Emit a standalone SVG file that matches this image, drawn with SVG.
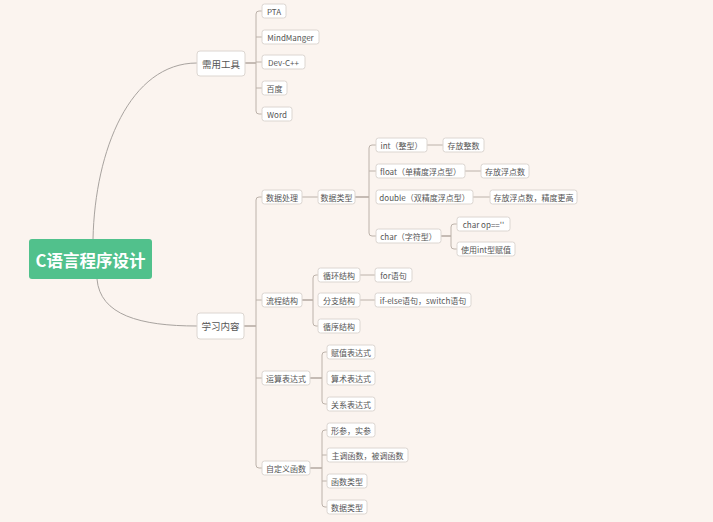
<svg xmlns="http://www.w3.org/2000/svg" width="713" height="522" viewBox="0 0 713 522">
<style>
.bg{fill:#fbf4ef}
.b{fill:#ffffff;stroke:#dcd6d1;stroke-width:1}
.t{font-family:"Noto Sans CJK SC","Noto Sans",sans-serif;font-size:8px;fill:#555;text-anchor:middle;dominant-baseline:central}
.t1{font-size:9.5px}
.rt{font-family:"Noto Sans CJK SC","Noto Sans",sans-serif;font-size:16.5px;font-weight:bold;fill:#fff;text-anchor:middle;dominant-baseline:central}
.c{fill:none;stroke:#bcb2aa;stroke-width:1}
.p{fill:none;stroke:#b3a9a1;stroke-width:1.5}
.cv{fill:none;stroke:#a8a39f;stroke-width:1}
</style>
<rect class="bg" x="0" y="0" width="713" height="522"/>
<g id="connectors">
<path class="cv" d="M93 239 C95 150 130 63 197 63"/>
<path class="cv" d="M97 279 C100 315 140 326 197 326"/>
<!-- 需用工具 -->
<path class="p" d="M245 63 H256"/>
<path class="c" d="M262 11 H259 Q256 11 256 14 V111 Q256 114 259 114 H262"/>
<path class="c" d="M256 37 H262 M256 62 H262 M256 88 H262"/>
<!-- 学习内容 -->
<path class="p" d="M244 326 H256"/>
<path class="c" d="M262 197 H259 Q256 197 256 200 V465 Q256 468 259 468 H262"/>
<path class="c" d="M256 300 H262 M256 378 H262"/>
<!-- 数据处理 -->
<path class="c" d="M302 197 H318"/>
<path class="p" d="M355 197 H369"/>
<path class="c" d="M376 145 H372 Q369 145 369 148 V233 Q369 236 372 236 H376"/>
<path class="c" d="M369 171 H376"/>
<path class="c" d="M427 145 H443 M465 171 H481 M473 197 H490"/>
<path class="p" d="M441 236 H451"/>
<path class="c" d="M457 224 H454 Q451 224 451 227 V246 Q451 249 454 249 H457"/>
<!-- 流程结构 -->
<path class="p" d="M302 300 H313"/>
<path class="c" d="M318 275 H316 Q313 275 313 278 V323 Q313 326 316 326 H318"/>
<path class="c" d="M360 275 H375 M360 300 H375"/>
<!-- 运算表达式 -->
<path class="p" d="M310 378 H322"/>
<path class="c" d="M327 352 H325 Q322 352 322 355 V401 Q322 404 325 404 H327"/>
<!-- 自定义函数 -->
<path class="p" d="M310 468 H322"/>
<path class="c" d="M327 430 H325 Q322 430 322 433 V504 Q322 507 325 507 H327"/>
<path class="c" d="M322 455 H327 M322 481 H327"/>
</g>
<g id="root"><rect x="29" y="239" width="123" height="40" rx="3" fill="#51c18c"/><text class="rt" x="90.5" y="260">C语言程序设计</text></g>
<g id="tools"><rect class="b" x="197" y="51" width="48" height="25" rx="3"/><text class="t t1" x="221" y="63.5">需用工具</text></g>
<g id="pta"><rect class="b" x="262" y="4" width="24" height="14" rx="2.5"/><text class="t" x="274" y="11">PTA</text></g>
<g id="mindmanger"><rect class="b" x="262" y="30" width="57" height="14" rx="2.5"/><text class="t" x="290.5" y="37">MindManger</text></g>
<g id="devcpp"><rect class="b" x="262" y="55" width="43" height="14" rx="2.5"/><text class="t" x="283.5" y="62">Dev-C++</text></g>
<g id="baidu"><rect class="b" x="262" y="81" width="25" height="14" rx="2.5"/><text class="t" x="274.5" y="88">百度</text></g>
<g id="word"><rect class="b" x="262" y="107" width="30" height="14" rx="2.5"/><text class="t" x="277" y="114">Word</text></g>
<g id="learn"><rect class="b" x="197" y="313" width="47" height="26" rx="3"/><text class="t t1" x="220.5" y="326">学习内容</text></g>
<g id="dataproc"><rect class="b" x="262" y="190" width="40" height="14" rx="2.5"/><text class="t" x="282" y="197">数据处理</text></g>
<g id="datatype"><rect class="b" x="318" y="190" width="37" height="14" rx="2.5"/><text class="t" x="336.5" y="197">数据类型</text></g>
<g id="int"><rect class="b" x="376" y="138" width="51" height="14" rx="2.5"/><text class="t" x="401.5" y="145">int（整型）</text></g>
<g id="int-desc"><rect class="b" x="443" y="138" width="41" height="14" rx="2.5"/><text class="t" x="463.5" y="145">存放整数</text></g>
<g id="float"><rect class="b" x="376" y="164" width="89" height="14" rx="2.5"/><text class="t" x="420.5" y="171">float（单精度浮点型）</text></g>
<g id="float-desc"><rect class="b" x="481" y="164" width="48" height="14" rx="2.5"/><text class="t" x="505" y="171">存放浮点数</text></g>
<g id="double"><rect class="b" x="376" y="190" width="97" height="14" rx="2.5"/><text class="t" x="424.5" y="197">double（双精度浮点型）</text></g>
<g id="double-desc"><rect class="b" x="490" y="190" width="87" height="14" rx="2.5"/><text class="t" x="533.5" y="197">存放浮点数，精度更高</text></g>
<g id="char"><rect class="b" x="376" y="229" width="65" height="14" rx="2.5"/><text class="t" x="408.5" y="236">char（字符型）</text></g>
<g id="char-op"><rect class="b" x="457" y="217" width="53" height="14" rx="2.5"/><text class="t" x="483.5" y="224">char op==''</text></g>
<g id="char-int"><rect class="b" x="457" y="242" width="58" height="14" rx="2.5"/><text class="t" x="486" y="249">使用int型赋值</text></g>
<g id="flow"><rect class="b" x="262" y="293" width="40" height="14" rx="2.5"/><text class="t" x="282" y="300">流程结构</text></g>
<g id="loop"><rect class="b" x="318" y="268" width="42" height="14" rx="2.5"/><text class="t" x="339" y="275">循环结构</text></g>
<g id="for"><rect class="b" x="375" y="268" width="37" height="14" rx="2.5"/><text class="t" x="393.5" y="275">for语句</text></g>
<g id="branch"><rect class="b" x="318" y="293" width="42" height="14" rx="2.5"/><text class="t" x="339" y="300">分支结构</text></g>
<g id="ifelse"><rect class="b" x="375" y="293" width="96" height="14" rx="2.5"/><text class="t" x="423" y="300">if-else语句，switch语句</text></g>
<g id="seq"><rect class="b" x="318" y="319" width="42" height="14" rx="2.5"/><text class="t" x="339" y="326">循序结构</text></g>
<g id="expr"><rect class="b" x="262" y="371" width="48" height="14" rx="2.5"/><text class="t" x="286" y="378">运算表达式</text></g>
<g id="assign"><rect class="b" x="327" y="345" width="48" height="14" rx="2.5"/><text class="t" x="351" y="352">赋值表达式</text></g>
<g id="arith"><rect class="b" x="327" y="371" width="48" height="14" rx="2.5"/><text class="t" x="351" y="378">算术表达式</text></g>
<g id="rel"><rect class="b" x="327" y="397" width="48" height="14" rx="2.5"/><text class="t" x="351" y="404">关系表达式</text></g>
<g id="func"><rect class="b" x="262" y="461" width="48" height="14" rx="2.5"/><text class="t" x="286" y="468">自定义函数</text></g>
<g id="params"><rect class="b" x="327" y="423" width="48" height="14" rx="2.5"/><text class="t" x="351" y="430">形参，实参</text></g>
<g id="caller"><rect class="b" x="327" y="448" width="81" height="14" rx="2.5"/><text class="t" x="367.5" y="455">主调函数，被调函数</text></g>
<g id="functype"><rect class="b" x="327" y="474" width="40" height="14" rx="2.5"/><text class="t" x="347" y="481">函数类型</text></g>
<g id="datatype2"><rect class="b" x="327" y="500" width="40" height="14" rx="2.5"/><text class="t" x="347" y="507">数据类型</text></g>
</svg>
